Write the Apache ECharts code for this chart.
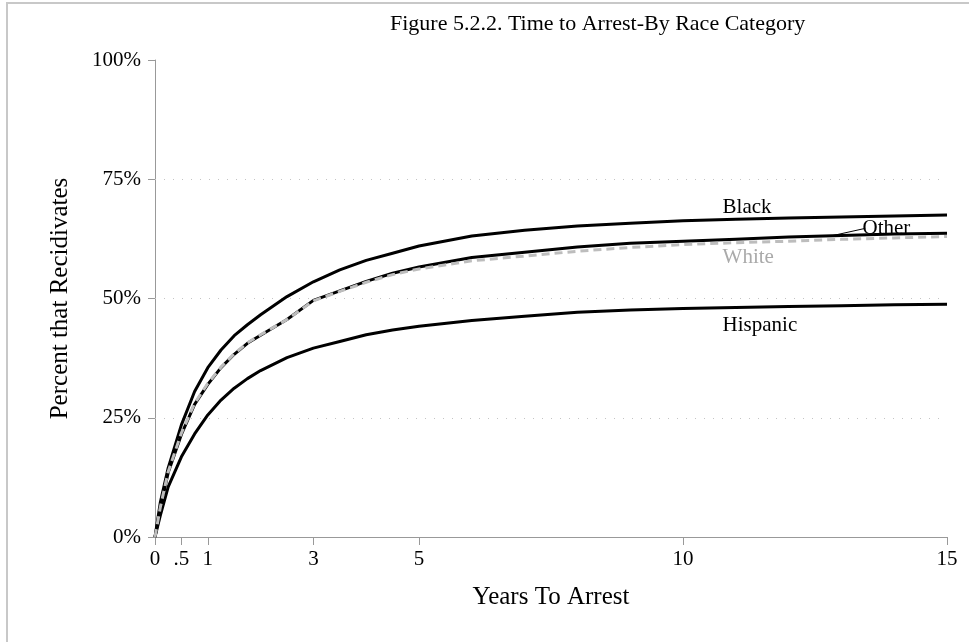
<!DOCTYPE html>
<html>
<head>
<meta charset="utf-8">
<script src="https://cdn.jsdelivr.net/npm/echarts@6/dist/echarts.min.js"></script>
<style>
  html, body { margin: 0; padding: 0; background: #fff; }
  .chart { width: 969px; height: 642px; }
</style>
</head>
<body>
<div class="chart"></div>
<script>
// years since release
var years = [0, 0.1, 0.25, 0.5, 0.75, 1, 1.25, 1.5, 1.75, 2, 2.5, 3, 3.5, 4, 4.5, 5, 6, 7, 8, 9, 10, 11, 12, 13, 14, 15];

// cumulative percent arrested
var black    = [0, 7.2, 14.5, 23.5, 30.5, 35.5, 39.2, 42.2, 44.5, 46.6, 50.4, 53.5, 56.0, 58.0, 59.5, 61.0, 63.1, 64.3, 65.2, 65.8, 66.3, 66.6, 66.9, 67.1, 67.3, 67.5];
var other    = [0, 6.0, 13.5, 21.5, 27.8, 32.0, 35.5, 38.3, 40.6, 42.3, 45.6, 49.6, 51.6, 53.6, 55.3, 56.6, 58.6, 59.7, 60.8, 61.6, 62.0, 62.4, 62.9, 63.2, 63.5, 63.7];
var white    = [0, 6.2, 13.7, 21.8, 28.0, 32.2, 35.6, 38.4, 40.7, 42.4, 45.6, 49.5, 51.5, 53.4, 55.0, 56.2, 57.9, 58.9, 59.9, 60.7, 61.3, 61.7, 62.0, 62.4, 62.7, 63.0];
var hispanic = [0, 4.5, 10.5, 16.8, 21.6, 25.6, 28.7, 31.2, 33.2, 34.9, 37.6, 39.6, 41.0, 42.4, 43.4, 44.2, 45.4, 46.3, 47.1, 47.6, 47.9, 48.1, 48.3, 48.5, 48.7, 48.8];

var xTicks = [0, 0.5, 1, 3, 5, 10, 15];
var yTicks = [0, 25, 50, 75, 100];
var gridValues = [25, 50, 75];

var serif = 'Liberation Serif';

var pairs = function (ys) {
  var out = [];
  for (var i = 0; i < years.length; i++) {
    out.push([years[i], ys[i]]);
  }
  return out;
};

// label put at a data coordinate, left aligned
var tag = function (text, x, y, color) {
  return {
    coord: [x, y],
    symbolSize: 0,
    label: {
      show: true,
      formatter: text,
      position: [0, 0],
      align: 'left',
      verticalAlign: 'middle',
      color: color,
      fontFamily: serif,
      fontSize: 21
    }
  };
};

var line = function (name, ys, extra) {
  var s = {
    name: name,
    type: 'line',
    data: pairs(ys),
    showSymbol: false,
    smooth: false,
    lineStyle: { color: '#000', width: 3, join: 'round' },
    z: 3
  };
  for (var k in extra) s[k] = extra[k];
  return s;
};

var option = {
  backgroundColor: '#fff',
  animation: false,
  title: {
    text: 'Figure 5.2.2. Time to Arrest-By Race Category',
    left: 385,
    top: 8,
    textStyle: { fontFamily: serif, fontSize: 22, fontWeight: 'normal', color: '#000' }
  },
  graphic: [{
    type: 'rect',
    shape: { x: 7, y: 3, width: 1000, height: 700 },
    style: { fill: 'none', stroke: '#c8c8c8', lineWidth: 2 },
    silent: true
  }],
  grid: { left: 155, right: 22, top: 60, bottom: 105 },
  xAxis: {
    type: 'value',
    min: 0,
    max: 15,
    interval: 0.5,
    name: 'Years To Arrest',
    nameLocation: 'middle',
    nameGap: 48,
    nameTextStyle: { fontFamily: serif, fontSize: 25, color: '#000' },
    axisLine: { lineStyle: { color: '#999', width: 1 } },
    axisTick: { customValues: xTicks, length: 8, lineStyle: { color: '#999' } },
    axisLabel: {
      customValues: xTicks,
      margin: 12,
      fontFamily: serif,
      fontSize: 21,
      color: '#000',
      formatter: function (v) {
        return v === 0.5 ? '.5' : String(v);
      }
    },
    splitLine: { show: false }
  },
  yAxis: {
    type: 'value',
    min: 0,
    max: 100,
    interval: 25,
    name: 'Percent that Recidivates',
    nameLocation: 'middle',
    nameGap: 82,
    nameTextStyle: { fontFamily: serif, fontSize: 25, color: '#000' },
    axisLine: { show: true, lineStyle: { color: '#999', width: 1 } },
    axisTick: { show: true, customValues: yTicks, length: 7, lineStyle: { color: '#999' } },
    axisLabel: {
      customValues: yTicks,
      margin: 14,
      fontFamily: serif,
      fontSize: 21,
      color: '#000',
      formatter: '{value}%'
    },
    splitLine: { show: false }
  },
  series: [
    line('Hispanic', hispanic, {
      markPoint: { data: [tag('Hispanic', 10.75, 44.4, '#000')] },
      // dotted reference lines at 25/50/75
      markLine: {
        silent: true,
        symbol: 'none',
        label: { show: false },
        lineStyle: { color: '#c4c4c4', width: 1, type: [1, 8] },
        data: gridValues.map(function (v) { return { yAxis: v }; }),
        z: 1
      }
    }),
    line('Black', black, {
      markPoint: { data: [tag('Black', 10.75, 69.0, '#000')] }
    }),
    line('Other', other, {
      markPoint: { data: [tag('Other', 13.4, 64.6, '#000')] },
      markLine: {
        silent: true,
        symbol: 'none',
        label: { show: false },
        lineStyle: { color: '#000', width: 1, type: 'solid' },
        data: [[{ coord: [12.8, 63.1] }, { coord: [13.45, 64.7] }]]
      }
    }),
    line('White', white, {
      lineStyle: { color: '#bdbdbd', width: 3, type: [8, 5] },
      markPoint: { data: [tag('White', 10.75, 58.5, '#aaaaaa')] },
      z: 4
    })
  ]
};

var myChart = echarts.init(document.querySelector('.chart'));
myChart.setOption(option);
</script>
</body>
</html>
